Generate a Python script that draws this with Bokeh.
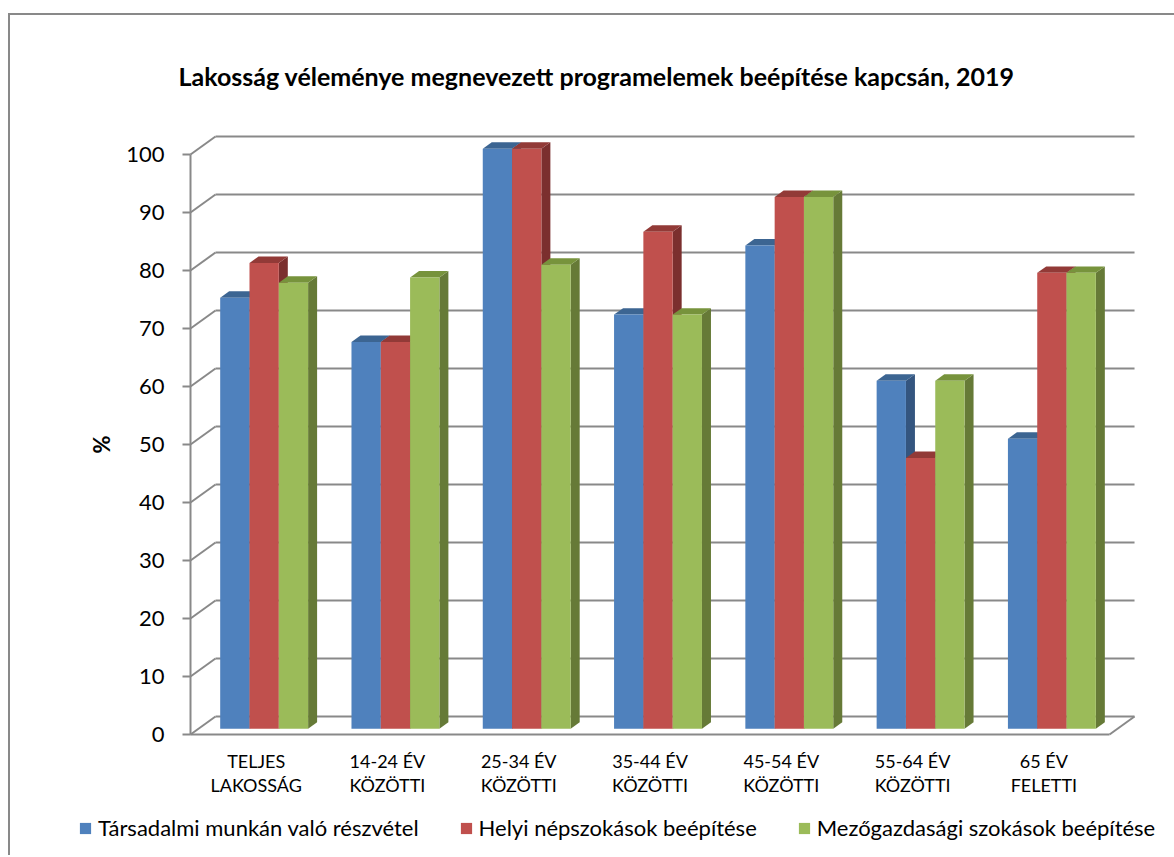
from bokeh.plotting import figure
from bokeh.layouts import column
from bokeh.models import (ColumnDataSource, FixedTicker, Legend, LegendItem,
                          Range1d, InlineStyleSheet, Label)
from bokeh.embed import file_html
from bokeh.resources import INLINE

# ---------------- data ----------------
title_text = "Lakosság véleménye megnevezett programelemek beépítése kapcsán, 2019"
categories = ["TELJES\nLAKOSSÁG", "14-24 ÉV\nKÖZÖTTI", "25-34 ÉV\nKÖZÖTTI",
              "35-44 ÉV\nKÖZÖTTI", "45-54 ÉV\nKÖZÖTTI", "55-64 ÉV\nKÖZÖTTI",
              "65 ÉV\nFELETTI"]
series_names = ["Társadalmi munkán való részvétel",
                "Helyi népszokások beépítése",
                "Mezőgazdasági szokások beépítése"]
tarsadalmi = [74.3, 66.7, 100.0, 71.4, 83.3, 60.0, 50.0]
helyi = [80.3, 66.7, 100.0, 85.7, 91.7, 46.7, 78.6]
mezogazdasagi = [76.9, 77.8, 80.0, 71.4, 91.7, 60.0, 78.6]
y_ticks = [0, 10, 20, 30, 40, 50, 60, 70, 80, 90, 100]
y_label = "%"

# ---------------- style / layout ----------------
front_colors = ["#4F81BD", "#C0504D", "#9BBB59"]
top_colors = ["#3C6592", "#923A37", "#77933C"]
side_colors = ["#34557F", "#7B2F2E", "#667A37"]
grid_color = "#898989"
FONT = "Lato"

W, H = 1164, 840       # figure size (frame covers the whole figure)
ORIG_X = 180           # px of the front-left corner of the box (from left)
ORIG_Y = 719           # px of the value 0 on the front plane (from top)
PX_X = 131.29          # pixels per category unit
PX_Y = 5.8             # pixels per percent
DX = 25 / PX_X         # depth of the 3D box in x units
DY = 18 / PX_Y         # depth of the 3D box in y units
FRONT = 0.32           # depth fraction of bar front faces
BACK = 0.68            # depth fraction of bar back faces
BW = 0.2232            # bar width

n = len(categories)
x0, x1 = -0.5, n - 0.5
y0, y1 = min(y_ticks), max(y_ticks)
xs_ = x0 - ORIG_X / PX_X
ys_ = y0 - (H - ORIG_Y) / PX_Y

p = figure(width=W, height=H, output_backend="svg", toolbar_location=None,
           x_range=Range1d(xs_, xs_ + W / PX_X),
           y_range=Range1d(ys_, ys_ + H / PX_Y),
           min_border_left=0, min_border_right=0,
           min_border_top=0, min_border_bottom=0)
p.outline_line_color = None
p.xgrid.visible = False
p.ygrid.visible = False
p.background_fill_color = "white"
p.border_fill_color = "white"

# ---- 3D box: back wall gridlines, left-wall diagonals, front vertical, floor
p.segment(x0=[x0 + DX] * len(y_ticks), y0=[t + DY for t in y_ticks],
          x1=[x1 + DX] * len(y_ticks), y1=[t + DY for t in y_ticks],
          line_color=grid_color, line_width=2)
p.segment(x0=[x0] * len(y_ticks), y0=y_ticks,
          x1=[x0 + DX] * len(y_ticks), y1=[t + DY for t in y_ticks],
          line_color=grid_color, line_width=2)
p.segment(x0=[x0, x0, x1], y0=[y0, y0, y0],
          x1=[x0, x1, x1 + DX], y1=[y1, y0, y0 + DY],
          line_color=grid_color, line_width=2)

# ---- bars
dbx = (BACK - FRONT) * DX
dby = (BACK - FRONT) * DY
items = []
for s, vals in enumerate([tarsadalmi, helyi, mezogazdasagi]):
    L = [i - 1.5 * BW + s * BW + FRONT * DX for i in range(n)]
    R = [l + BW for l in L]
    B = [FRONT * DY] * n
    T = [v + FRONT * DY for v in vals]
    side_xs = [[r, r, r + dbx, r + dbx] for r in R]
    side_ys = [[b, t, t + dby, b + dby] for b, t in zip(B, T)]
    top_xs = [[l, r, r + dbx, l + dbx] for l, r in zip(L, R)]
    top_ys = [[t, t, t + dby, t + dby] for t in T]
    p.patches(xs=side_xs, ys=side_ys, fill_color=side_colors[s], line_color=None)
    p.patches(xs=top_xs, ys=top_ys, fill_color=top_colors[s], line_color=None)
    src = ColumnDataSource(dict(left=L, right=R, bottom=B, top=T))
    r = p.quad(left="left", right="right", bottom="bottom", top="top", source=src,
               fill_color=front_colors[s], line_color=None)
    items.append(LegendItem(label=series_names[s], renderers=[r]))

# ---- axes (drawn at the front plane of the box)
p.yaxis.fixed_location = x0
p.yaxis.ticker = FixedTicker(ticks=y_ticks)
p.yaxis.axis_line_color = None
p.yaxis.major_tick_out = 8
p.yaxis.major_tick_in = 0
p.yaxis.minor_tick_line_color = None
p.yaxis.major_tick_line_color = grid_color
p.yaxis.major_tick_line_width = 2
p.yaxis.major_label_standoff = 18
p.yaxis.major_label_text_font = FONT
p.yaxis.major_label_text_font_size = "22px"
p.yaxis.major_label_text_color = "black"

p.xaxis.fixed_location = y0
p.xaxis.ticker = FixedTicker(ticks=list(range(n)))
p.xaxis.major_label_overrides = {i: c for i, c in enumerate(categories)}
p.xaxis.axis_line_color = None
p.xaxis.major_tick_line_color = None
p.xaxis.minor_tick_line_color = None
p.xaxis.major_label_standoff = 9
p.xaxis.major_label_text_font = FONT
p.xaxis.major_label_text_font_size = "18px"
p.xaxis.major_label_text_color = "black"
p.xaxis.major_label_text_line_height = 1.12

# ---- y axis title
p.add_layout(Label(x=xs_ + 91 / PX_X, y=(y0 + y1) / 2, text=y_label,
                   angle=90, angle_units="deg", text_align="center",
                   text_baseline="middle", text_font=FONT, text_font_size="22px",
                   text_font_style="bold", text_color="black"))

# ---- chart title
p.add_layout(Label(x=xs_ + 586 / PX_X, y=ys_ + (H - 60) / PX_Y, text=title_text,
                   text_align="center", text_baseline="middle", text_font=FONT,
                   text_font_size="25px", text_font_style="bold",
                   text_color="black"))

# ---- legend
legend = Legend(items=items, orientation="horizontal", location=(68, 14),
                glyph_width=14, glyph_height=14, label_standoff=6, spacing=40,
                padding=0, margin=0, border_line_color=None,
                background_fill_alpha=0,
                label_text_font=FONT, label_text_font_size="22px",
                label_text_color="black")
p.add_layout(legend, "center")

root = column(p, spacing=0)
root.stylesheets = [InlineStyleSheet(css=":host { border-left: 2px solid #898989; "
                                         "border-top: 2px solid #898989; "
                                         "margin-left: 8px; margin-top: 13px; }")]

open("out.html", "w").write(file_html(root, INLINE))
